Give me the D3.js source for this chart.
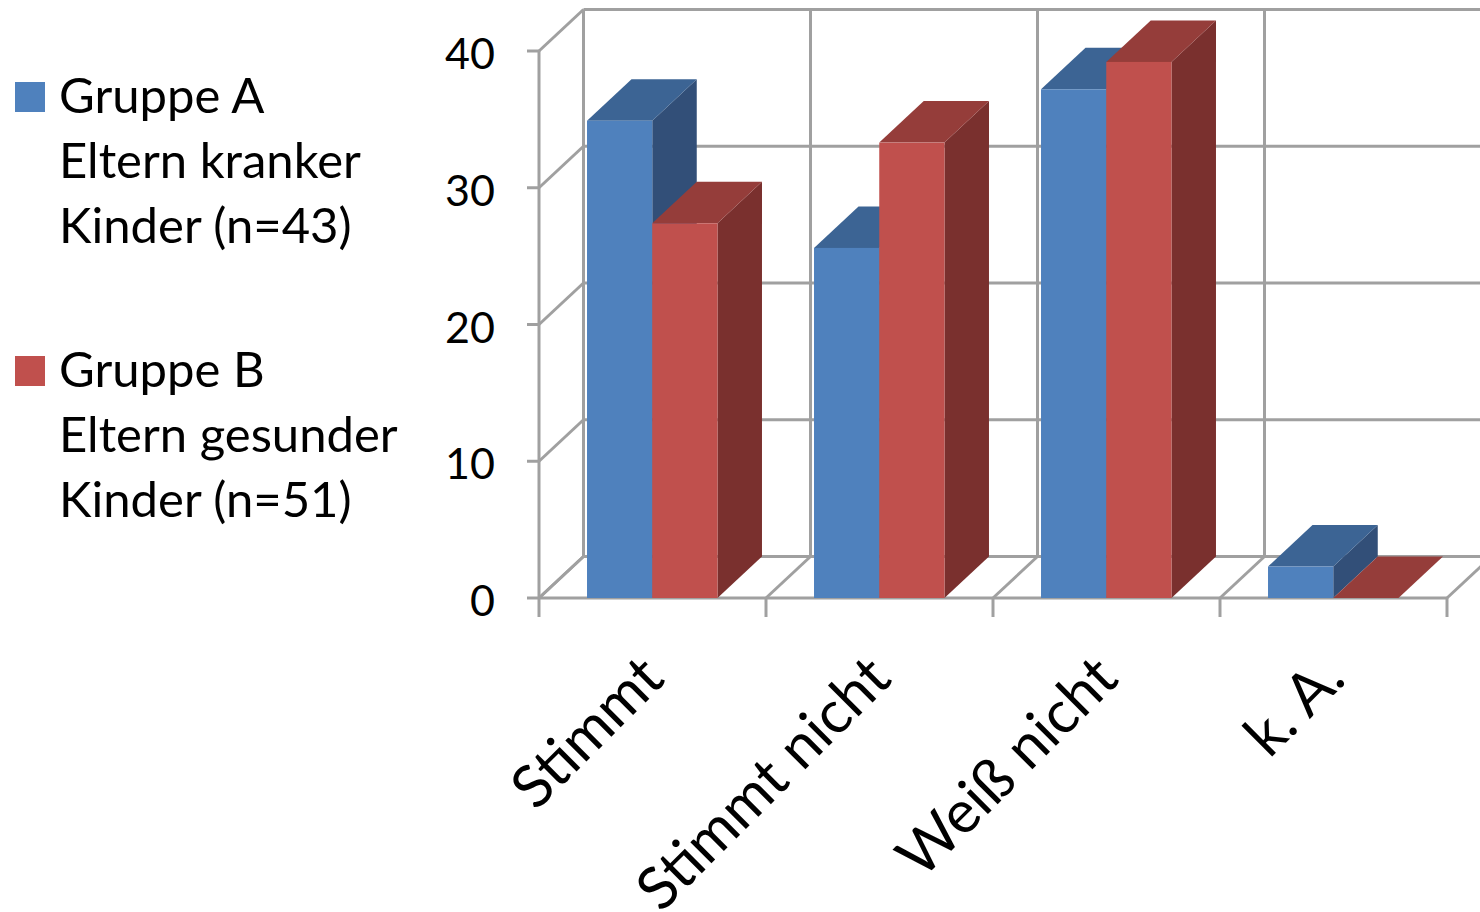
<!DOCTYPE html>
<html>
<head>
<meta charset="utf-8">
<script src="https://cdn.jsdelivr.net/npm/d3@7/dist/d3.min.js"></script>
<style>
html, body { margin: 0; padding: 0; background: #fff; overflow: hidden; }
svg { display: block; font-family: Lato, "Open Sans", sans-serif; }
</style>
</head>
<body>
<svg width="1480" height="912"></svg>
<script>
const categories = ["Stimmt", "Stimmt nicht", "Weiß nicht", "k. A."];
const seriesNames = ["Gruppe A", "Gruppe B"];
const gruppeA = [34.9, 25.6, 37.2, 2.3];
const gruppeB = [27.4, 33.3, 39.2, 0];
const yTicks = [0, 10, 20, 30, 40];
const legendLines = [
    ["Gruppe A", "Eltern kranker", "Kinder (n=43)"],
    ["Gruppe B", "Eltern gesunder", "Kinder (n=51)"]
];
const frontColors = ["#4f81bd", "#c0504d"];
const topColors = ["#3c6494", "#953d3a"];
const sideColors = ["#324f78", "#7a302e"];
const gridColor = "#a0a0a0";

const svg = d3.select("svg");

// depth of the 3d box
const depthX = 44.5;
const depthY = -41.5;

const x = d3.scaleBand().domain(categories).range([539, 1447]);
const xInner = d3.scaleBand()
    .domain(seriesNames)
    .range([0, x.bandwidth()])
    .paddingInner(0)
    .paddingOuter(0.74);
const y = d3.scaleLinear().domain([0, 40]).range([598, 51]);

const line = (x1, y1, x2, y2) => svg.append("line")
    .attr("x1", x1).attr("y1", y1).attr("x2", x2).attr("y2", y2)
    .attr("stroke", gridColor)
    .attr("stroke-width", 3);

// back wall and side wall gridlines
yTicks.forEach(t => {
    line(539 + depthX, y(t) + depthY, 1480, y(t) + depthY);
    line(539, y(t), 539 + depthX, y(t) + depthY);
    line(527, y(t), 539, y(t));
});
line(539, y(0), 539, y(40));
x.domain().concat("end").forEach((c, i) => {
    const px = i < categories.length ? x(c) : 1447;
    line(px, y(0), px, 617);
    line(px, y(0), px + depthX, y(0) + depthY);
    line(px + depthX, y(0) + depthY, px + depthX, y(40) + depthY);
});
line(539, y(0), 1447, y(0));

yTicks.forEach(t => {
    svg.append("text")
        .attr("x", 495)
        .attr("y", y(t) + 18)
        .attr("text-anchor", "end")
        .attr("font-size", 43)
        .attr("fill", "#000")
        .text(t);
});

// bars, blue before red inside each category so red covers the blue side
categories.forEach((c, i) => {
    [gruppeA[i], gruppeB[i]].forEach((v, s) => {
        const x0 = x(c) + xInner(seriesNames[s]) - 0.25;
        const x1 = x0 + xInner.bandwidth();
        const yTop = y(v);
        const yBase = y(0);
        const pts = a => a.map(p => p.join(",")).join(" ");
        svg.append("polygon")
            .attr("fill", sideColors[s])
            .attr("points", pts([[x1, yBase], [x1 + depthX, yBase + depthY], [x1 + depthX, yTop + depthY], [x1, yTop]]));
        svg.append("polygon")
            .attr("fill", topColors[s])
            .attr("points", pts([[x0, yTop], [x0 + depthX, yTop + depthY], [x1 + depthX, yTop + depthY], [x1, yTop]]));
        svg.append("rect")
            .attr("x", x0)
            .attr("y", yTop)
            .attr("width", x1 - x0)
            .attr("height", yBase - yTop)
            .attr("fill", frontColors[s]);
    });
});

// category labels, rotated
categories.forEach(c => {
    const cx = x(c) + x.bandwidth() / 2 - 15;
    svg.append("text")
        .attr("transform", `translate(${cx},652) rotate(-45)`)
        .attr("text-anchor", "end")
        .attr("dy", "0.7em")
        .attr("font-size", 59)
        .attr("fill", "#000")
        .text(c);
});

// legend
legendLines.forEach((rows, s) => {
    const top = 96 + s * 274;
    svg.append("rect")
        .attr("x", 15).attr("y", top - 14)
        .attr("width", 30).attr("height", 30)
        .attr("fill", frontColors[s]);
    rows.forEach((r, i) => {
        svg.append("text")
            .attr("x", 59)
            .attr("y", top + 17 + i * 65)
            .attr("font-size", 49)
            .attr("fill", "#000")
            .text(r);
    });
});
</script>
</body>
</html>
